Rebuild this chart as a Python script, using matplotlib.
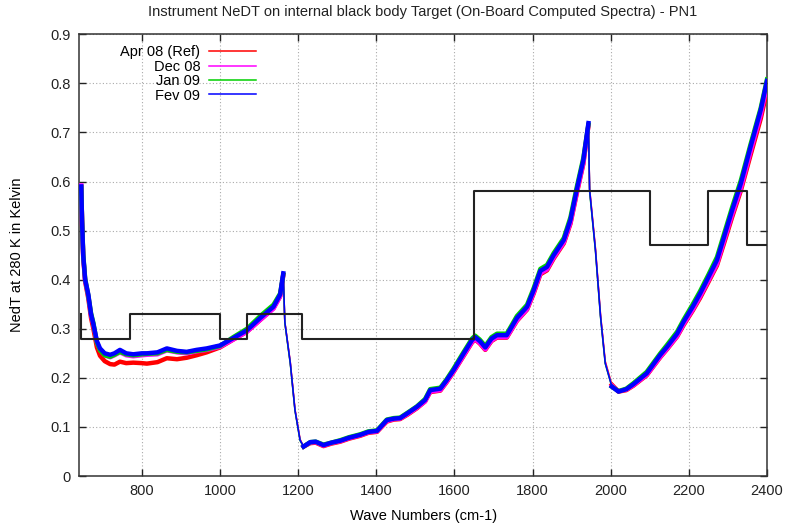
#!/usr/bin/env python3
"""Instrument NeDT on the internal black body target, four dates vs. spec."""

import matplotlib

matplotlib.use("Agg")
import matplotlib.pyplot as plt
import numpy as np

TITLE = "Instrument NeDT on internal black body Target (On-Board Computed Spectra) - PN1"

wavenumber = [
    645, 647, 650, 655, 663, 670, 676, 685, 693, 705,
    719, 730, 744, 760, 778, 800, 813, 840, 864, 890,
    915, 940, 966, 1000, 1034, 1069, 1103, 1137, 1154, 1162,
    1166, 1180, 1192, 1205, 1214, 1231, 1245, 1265, 1285, 1308,
    1330, 1359, 1380, 1402, 1427, 1445, 1461, 1480, 1504, 1525,
    1538, 1564, 1580, 1598, 1620, 1645, 1653, 1665, 1679, 1695,
    1709, 1734, 1760, 1786, 1803, 1820, 1837, 1854, 1880, 1897,
    1913, 1930, 1943, 1946, 1961, 1974, 1986, 2003, 2020, 2040,
    2058, 2092, 2127, 2144, 2170, 2187, 2210, 2229, 2250, 2272,
    2290, 2311, 2333, 2358, 2384, 2400,
]

apr_08 = [
    0.590, 0.518, 0.446, 0.396, 0.362, 0.322, 0.300, 0.262, 0.245, 0.234,
    0.228, 0.227, 0.233, 0.230, 0.231, 0.230, 0.229, 0.232, 0.240, 0.238,
    0.241, 0.246, 0.252, 0.262, 0.278, 0.294, 0.318, 0.342, 0.366, 0.410,
    0.314, 0.232, 0.136, 0.075, 0.060, 0.067, 0.068, 0.061, 0.066, 0.070,
    0.076, 0.082, 0.088, 0.090, 0.111, 0.115, 0.116, 0.125, 0.138, 0.152,
    0.171, 0.174, 0.191, 0.212, 0.240, 0.272, 0.278, 0.270, 0.257, 0.275,
    0.282, 0.282, 0.316, 0.339, 0.372, 0.411, 0.419, 0.443, 0.474, 0.514,
    0.575, 0.636, 0.714, 0.586, 0.464, 0.329, 0.234, 0.186, 0.172, 0.175,
    0.184, 0.205, 0.242, 0.258, 0.284, 0.308, 0.337, 0.363, 0.395, 0.429,
    0.474, 0.528, 0.581, 0.654, 0.728, 0.785,
]

dec_08 = [
    0.592, 0.518, 0.448, 0.398, 0.366, 0.328, 0.308, 0.272, 0.257, 0.246,
    0.242, 0.246, 0.252, 0.246, 0.244, 0.246, 0.247, 0.248, 0.256, 0.252,
    0.250, 0.254, 0.257, 0.263, 0.278, 0.294, 0.318, 0.341, 0.366, 0.408,
    0.313, 0.231, 0.135, 0.074, 0.060, 0.068, 0.069, 0.062, 0.067, 0.071,
    0.077, 0.083, 0.089, 0.091, 0.112, 0.116, 0.117, 0.126, 0.139, 0.152,
    0.172, 0.175, 0.192, 0.213, 0.241, 0.273, 0.279, 0.271, 0.258, 0.276,
    0.283, 0.283, 0.317, 0.340, 0.374, 0.413, 0.421, 0.445, 0.476, 0.516,
    0.577, 0.638, 0.714, 0.585, 0.462, 0.327, 0.232, 0.184, 0.173, 0.176,
    0.185, 0.206, 0.243, 0.259, 0.285, 0.310, 0.339, 0.366, 0.398, 0.432,
    0.479, 0.533, 0.586, 0.661, 0.736, 0.795,
]

jan_09 = [
    0.588, 0.522, 0.452, 0.402, 0.368, 0.332, 0.312, 0.272, 0.256, 0.246,
    0.243, 0.247, 0.253, 0.248, 0.246, 0.248, 0.249, 0.250, 0.257, 0.253,
    0.252, 0.255, 0.258, 0.265, 0.283, 0.300, 0.326, 0.349, 0.372, 0.410,
    0.312, 0.228, 0.133, 0.072, 0.060, 0.069, 0.070, 0.064, 0.068, 0.073,
    0.079, 0.085, 0.091, 0.093, 0.115, 0.118, 0.119, 0.129, 0.142, 0.157,
    0.177, 0.180, 0.197, 0.219, 0.248, 0.280, 0.286, 0.278, 0.265, 0.283,
    0.290, 0.290, 0.326, 0.349, 0.383, 0.422, 0.430, 0.454, 0.485, 0.527,
    0.588, 0.648, 0.716, 0.580, 0.458, 0.323, 0.229, 0.182, 0.173, 0.178,
    0.189, 0.212, 0.250, 0.267, 0.294, 0.319, 0.350, 0.377, 0.410, 0.446,
    0.493, 0.548, 0.602, 0.676, 0.750, 0.808,
]

fev_09 = [
    0.590, 0.520, 0.450, 0.400, 0.370, 0.330, 0.310, 0.275, 0.260, 0.250,
    0.247, 0.250, 0.257, 0.250, 0.248, 0.250, 0.250, 0.252, 0.260, 0.255,
    0.253, 0.257, 0.260, 0.266, 0.281, 0.297, 0.322, 0.345, 0.370, 0.413,
    0.314, 0.230, 0.134, 0.073, 0.060, 0.069, 0.070, 0.063, 0.068, 0.072,
    0.078, 0.084, 0.090, 0.092, 0.114, 0.117, 0.118, 0.128, 0.141, 0.155,
    0.175, 0.178, 0.195, 0.216, 0.245, 0.277, 0.283, 0.275, 0.262, 0.280,
    0.287, 0.287, 0.322, 0.345, 0.379, 0.418, 0.426, 0.450, 0.481, 0.522,
    0.583, 0.644, 0.719, 0.583, 0.460, 0.325, 0.230, 0.182, 0.172, 0.177,
    0.187, 0.209, 0.247, 0.263, 0.290, 0.315, 0.345, 0.372, 0.405, 0.440,
    0.487, 0.542, 0.596, 0.671, 0.746, 0.805,
]

series_labels = ["Apr 08 (Ref)", "Dec 08", "Jan 09", "Fev 09"]

# specification (step function)
spec_edges = [645, 645, 770, 1000, 1070, 1210, 1650, 2100, 2250, 2350, 2400]
spec_nedt = [0.33, 0.28, 0.33, 0.28, 0.33, 0.28, 0.58, 0.47, 0.58, 0.47, 0.47]

x_ticks = [800, 1000, 1200, 1400, 1600, 1800, 2000, 2200, 2400]
y_ticks = [0, 0.1, 0.2, 0.3, 0.4, 0.5, 0.6, 0.7, 0.8, 0.9]
y_tick_labels = ["0", "0.1", "0.2", "0.3", "0.4", "0.5", "0.6", "0.7", "0.8", "0.9"]


def main() -> None:
    plt.rcParams["font.family"] = ["Liberation Sans", "DejaVu Sans"]
    colors = ["#ff0000", "#ff00ff", "#00d000", "#0000ff"]

    figure = plt.figure(figsize=(7.86, 5.25), dpi=100)
    axis = figure.add_axes([0.1009, 0.0933, 0.8749, 0.8414])

    x = np.array(wavenumber, dtype=float)
    # the steep drops have no visible noise, so only the rest gets a thick band
    steep = ((x > 1162) & (x < 1214)) | ((x > 1943) & (x < 2003))

    for values, label, color in zip(
        [apr_08, dec_08, jan_09, fev_09], series_labels, colors
    ):
        y = np.array(values)
        axis.plot(x, y, color=color, linewidth=1.1, label=label, zorder=3)
        axis.plot(x, np.ma.masked_where(steep, y), color=color,
                  linewidth=3.2, solid_joinstyle="round", zorder=3)

    axis.plot(spec_edges, spec_nedt, drawstyle="steps-post",
              color="#222222", linewidth=1.5, zorder=4)

    axis.set_xlim(640, 2400)
    axis.set_ylim(0, 0.9)
    axis.set_xticks(x_ticks)
    axis.set_yticks(y_ticks)
    axis.set_yticklabels(y_tick_labels)
    axis.tick_params(direction="in", length=5, width=1, top=True, right=True,
                     labelsize=10.5, colors="#222222", pad=6)
    axis.grid(True, color="#aaaaaa", linestyle=(0, (1, 2)), linewidth=0.8)
    for spine in axis.spines.values():
        spine.set_linewidth(1.1)
        spine.set_color("#333333")

    axis.set_xlabel("Wave Numbers (cm-1)", fontsize=10.5, labelpad=8)
    axis.set_ylabel("NedT at 280 K in Kelvin", fontsize=10.5, labelpad=19)
    figure.text(0.538, 0.977, TITLE, ha="center", va="center", fontsize=10.5,
                color="#222222")

    axis.legend(loc="upper left", bbox_to_anchor=(0.047, 0.995), frameon=False,
                markerfirst=False, fontsize=10.5, handlelength=3.2,
                handletextpad=0.6, labelspacing=0.03, borderaxespad=0.2)

    figure.savefig("out.png", dpi=100)
    plt.close(figure)


if __name__ == "__main__":
    main()
